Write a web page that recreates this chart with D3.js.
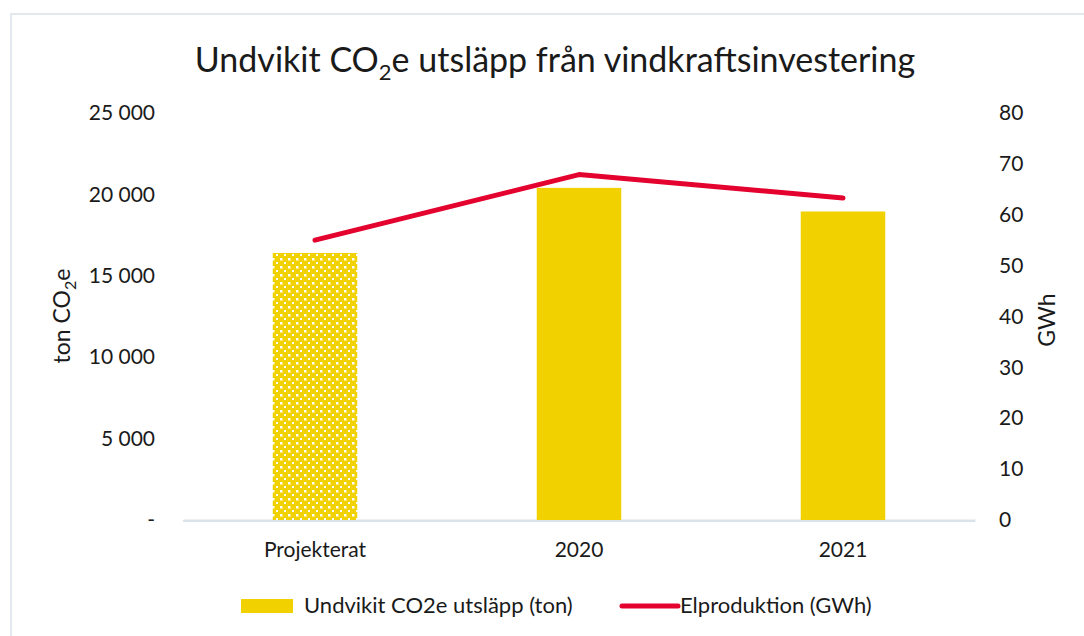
<!DOCTYPE html>
<html>
<head>
<meta charset="utf-8">
<script src="https://cdn.jsdelivr.net/npm/d3@7"></script>
<style>
  body { margin: 0; background: #fff; }
  text { font-family: Lato, "Open Sans", sans-serif; fill: #1a1a1a; }
</style>
</head>
<body>
<div id="chart"></div>
<script>
// data
const categories = ["Projekterat", "2020", "2021"];
const emissions = [16400, 20400, 18950];     // ton CO2e
const production = [55.0, 67.9, 63.3];        // GWh
const leftTicks = [0, 5000, 10000, 15000, 20000, 25000];
const rightTicks = [0, 10, 20, 30, 40, 50, 60, 70, 80];
const barLabel = "Undvikit CO2e utsläpp (ton)";
const lineLabel = "Elproduktion (GWh)";

const W = 1084, H = 636;
const margin = {top: 113, right: 109, bottom: 116, left: 183};
const width = W - margin.left - margin.right,
      height = H - margin.top - margin.bottom;

const yellow = "#F2D100", red = "#E4032E";

const svg = d3.select("#chart").append("svg")
    .attr("width", W).attr("height", H);

// frame
svg.append("rect")
  .attr("x", 11).attr("y", 14).attr("width", W).attr("height", H)
  .attr("fill", "none").attr("stroke", "#e3e8ee").attr("stroke-width", 2);

// pattern for projected bar
const defs = svg.append("defs");
const pat = defs.append("pattern")
  .attr("id", "dots").attr("patternUnits", "userSpaceOnUse")
  .attr("width", 8).attr("height", 8);
pat.append("rect").attr("width", 8).attr("height", 8).attr("fill", yellow);
pat.append("rect").attr("x", 1).attr("y", 1).attr("width", 2.5).attr("height", 2.5).attr("fill", "#fff");
pat.append("rect").attr("x", 5).attr("y", 5).attr("width", 2).attr("height", 2).attr("fill", "#fff");

const g = svg.append("g").attr("transform", `translate(${margin.left},${margin.top})`);

const x = d3.scaleBand().domain(categories).range([0, width])
  .paddingInner(0.68).paddingOuter(0.34);
const y = d3.scaleLinear().domain([0, 25000]).range([height, 0]);
const y2 = d3.scaleLinear().domain([0, 80]).range([height, 0]);

const fmt = d3.formatLocale({thousands: "\u00a0", grouping: [3], decimal: ","}).format(",d");

// left axis
const yAxis = g.append("g")
  .call(d3.axisLeft(y).tickValues(leftTicks).tickSize(0).tickPadding(28)
    .tickFormat(d => d === 0 ? "-" : fmt(d)));
yAxis.select(".domain").remove();
yAxis.selectAll("text").style("font-size", "21px").style("font-family", "Lato, sans-serif").attr("fill", "#1a1a1a");

// right axis
const y2Axis = g.append("g").attr("transform", `translate(${width},0)`)
  .call(d3.axisRight(y2).tickValues(rightTicks).tickSize(0).tickPadding(24));
y2Axis.select(".domain").remove();
y2Axis.selectAll("text").style("font-size", "21px").style("font-family", "Lato, sans-serif").attr("fill", "#1a1a1a");

// x axis
const xAxis = g.append("g").attr("transform", `translate(0,${height})`)
  .call(d3.axisBottom(x).tickSize(0).tickPadding(22));
xAxis.select(".domain").attr("stroke", "#dbe3ea").attr("stroke-width", 2);
xAxis.selectAll("text").style("font-size", "21px").style("font-family", "Lato, sans-serif").attr("fill", "#1a1a1a");

// bars
g.append("g").selectAll("rect")
  .data(categories)
  .join("rect")
    .attr("x", d => x(d))
    .attr("y", (d, i) => y(emissions[i]))
    .attr("width", x.bandwidth())
    .attr("height", (d, i) => height - y(emissions[i]))
    .attr("fill", (d, i) => i === 0 ? "url(#dots)" : yellow);

// re-draw baseline on top of bars
g.append("line").attr("x1", 0).attr("x2", width)
  .attr("y1", height + 1).attr("y2", height + 1)
  .attr("stroke", "#dbe3ea").attr("stroke-width", 2);

// line
const line = d3.line()
  .x((d, i) => x(categories[i]) + x.bandwidth() / 2)
  .y(d => y2(d));
g.append("path").datum(production)
  .attr("d", line)
  .attr("fill", "none").attr("stroke", red).attr("stroke-width", 5)
  .attr("stroke-linecap", "round").attr("stroke-linejoin", "round");

// title
const title = svg.append("text")
  .attr("x", 555).attr("y", 72).attr("text-anchor", "middle")
  .style("font-size", "34px");
title.append("tspan").text("Undvikit CO");
title.append("tspan").attr("dy", 8).style("font-size", "22px").text("2");
title.append("tspan").attr("dy", -8).text("e utsläpp från vindkraftsinvestering");

// axis titles
const yt = svg.append("text")
  .attr("transform", "translate(70,316) rotate(-90)")
  .attr("text-anchor", "middle").style("font-size", "23px");
yt.append("tspan").text("ton CO");
yt.append("tspan").attr("dy", 6).style("font-size", "16px").text("2");
yt.append("tspan").attr("dy", -6).text("e");

svg.append("text")
  .attr("transform", "translate(1055,320) rotate(-90)")
  .attr("text-anchor", "middle").style("font-size", "23px").text("GWh");

// legend
const leg = svg.append("g").attr("transform", "translate(0,606)");
leg.append("rect").attr("x", 241).attr("y", -7).attr("width", 52).attr("height", 14).attr("fill", yellow);
leg.append("text").attr("x", 304).attr("y", 7).style("font-size", "22px").text(barLabel);
leg.append("line").attr("x1", 622).attr("x2", 678).attr("y1", 0).attr("y2", 0)
  .attr("stroke", red).attr("stroke-width", 5).attr("stroke-linecap", "round");
leg.append("text").attr("x", 680).attr("y", 7).style("font-size", "22px").text(lineLabel);
</script>
</body>
</html>
